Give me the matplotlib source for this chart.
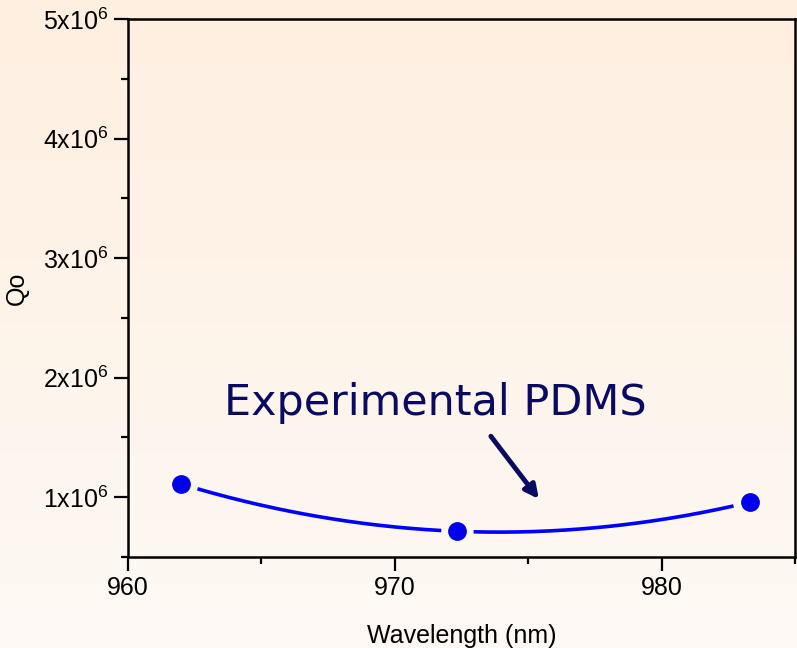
import numpy as np
import matplotlib
matplotlib.use("Agg")
import matplotlib.pyplot as plt
from matplotlib.ticker import MultipleLocator, FuncFormatter

# Data
wavelength = [962.0, 972.35, 983.3]
qo = [1.11e6, 0.715e6, 0.958e6]
annotation = "Experimental PDMS"
xlabel = "Wavelength (nm)"
ylabel = "Qo"

font = "Liberation Sans"
plt.rcParams["mathtext.fontset"] = "custom"
plt.rcParams["mathtext.rm"] = font

W, H, DPI = 797, 648, 100
fig = plt.figure(figsize=(W / DPI, H / DPI), dpi=DPI)

# background gradient
bg = fig.add_axes([0, 0, 1, 1], zorder=-10)
top = np.array([255, 239, 224]) / 255
bot = np.array([253, 249, 244]) / 255
t = np.linspace(0, 1, 256)[:, None]
grad = (top[None, :] * (1 - t) + bot[None, :] * t)[:, None, :]
bg.imshow(grad, aspect="auto", extent=[0, 1, 0, 1])
bg.axis("off")

ax = fig.add_axes([128 / W, (H - 557) / H, 667 / W, 538 / H])
ax.set_facecolor("none")
ax.set_xlim(960, 985)
ax.set_ylim(0.5e6, 5e6)

# smooth curve through the points (quadratic through the three measured points)
coef = np.polyfit(wavelength, qo, 2)
xs = np.linspace(wavelength[0], wavelength[-1], 600)
ys = np.polyval(coef, xs)
fig.canvas.draw()
pix = ax.transData.transform(np.column_stack([xs, ys]))
mp = ax.transData.transform(np.column_stack([wavelength, qo]))
d = np.min(np.hypot(pix[:, None, 0] - mp[None, :, 0], pix[:, None, 1] - mp[None, :, 1]), axis=1)
ys_g = ys.copy()
ys_g[d < 16] = np.nan
ax.plot(xs, ys_g, color="#0000FF", lw=2.6, solid_capstyle="butt", zorder=3)
ax.plot(wavelength, qo, "o", color="#0000EE", markersize=12.5, zorder=4)

# annotation
ax.text(0.1445, 0.264, annotation, transform=ax.transAxes, fontsize=30.9,
        color="#0A0A62", family="DejaVu Sans", va="baseline", ha="left")
ax.annotate("", xy=(975.4, 0.985e6), xytext=(973.6, 1.51e6),
            arrowprops=dict(arrowstyle="-|>,head_length=0.8,head_width=0.4",
                            color="#0A0A62", lw=3.5, shrinkA=0, shrinkB=0))

# ticks
ax.xaxis.set_major_locator(MultipleLocator(10))
ax.xaxis.set_minor_locator(MultipleLocator(5))
ax.yaxis.set_major_locator(MultipleLocator(1e6))
ax.yaxis.set_minor_locator(MultipleLocator(0.5e6))
ax.yaxis.set_major_formatter(FuncFormatter(
    lambda v, p: r"$\mathregular{%dx10^{6}}$" % round(v / 1e6) if v >= 0.99e6 else ""))
ax.tick_params(which="major", length=10, width=1.6, direction="out",
               labelsize=18, pad=4)
ax.tick_params(which="minor", length=5, width=1.6, direction="out")
ax.tick_params(top=False, right=False)
for lab in ax.get_xticklabels() + ax.get_yticklabels():
    lab.set_family(font)
for s in ax.spines.values():
    s.set_linewidth(1.8)

ax.set_xlabel(xlabel, fontsize=18, family=font, labelpad=17)
ax.set_ylabel(ylabel, fontsize=18, family=font, labelpad=10)

fig.savefig("out.png", dpi=DPI)
